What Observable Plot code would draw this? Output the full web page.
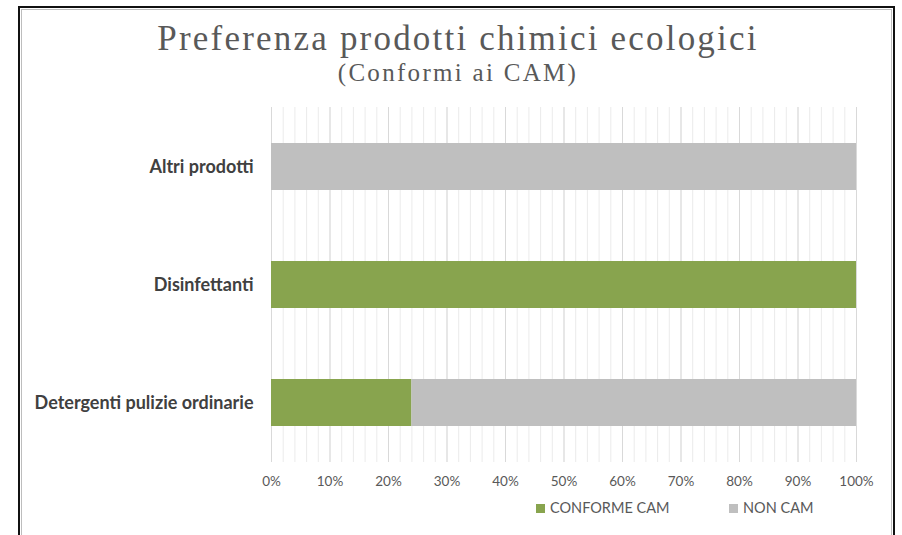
<!DOCTYPE html>
<html><head><meta charset="utf-8">
<script src="https://cdn.jsdelivr.net/npm/d3@7"></script>
<script src="https://cdn.jsdelivr.net/npm/@observablehq/plot@0.6"></script>
<style>
html,body{margin:0;padding:0;background:#fff;}
#wrap{position:relative;width:902px;height:535px;overflow:hidden;background:#fff;}
#frame{position:absolute;left:18px;top:6px;width:877px;height:560px;border:2px solid #111;box-sizing:border-box;}
#inner{position:absolute;left:1px;top:1px;right:1px;bottom:0;border:1px solid #bdbdbd;border-bottom:none;}
#title{position:absolute;left:19px;width:878px;top:19px;text-align:center;font-family:"Liberation Serif","DejaVu Serif",serif;color:#595959;font-size:35px;line-height:40px;letter-spacing:2.2px;}
#subtitle{position:absolute;left:19px;width:878px;top:58px;text-align:center;font-family:"Liberation Serif","DejaVu Serif",serif;color:#595959;font-size:25px;line-height:30px;letter-spacing:2.3px;}
#chart{position:absolute;left:0;top:0;}
.leg{position:absolute;top:500px;font-family:Lato,"Open Sans",sans-serif;font-size:14.5px;color:#595959;line-height:16px;}
.sw{display:inline-block;width:9px;height:9px;margin-right:5px;vertical-align:0px;}
</style></head>
<body>
<div id="wrap">
  <div id="frame"><div id="inner"></div></div>
  <div id="title">Preferenza prodotti chimici ecologici</div>
  <div id="subtitle">(Conformi ai CAM)</div>
  <div id="chart"></div>
  <div class="leg" id="leg1" style="left:536px"><span class="sw" style="background:#88a44e"></span>CONFORME CAM</div>
  <div class="leg" id="leg2" style="left:729px"><span class="sw" style="background:#bfbfbf"></span>NON CAM</div>
</div>
<script>
const categories = ["Altri prodotti", "Disinfettanti", "Detergenti pulizie ordinarie"];
const series = ["CONFORME CAM", "NON CAM"];
const conforme = [0, 100, 24];
const nonCam = [100, 0, 76];
const majorTicks = [0, 10, 20, 30, 40, 50, 60, 70, 80, 90, 100];
const minorTicks = d3.range(0, 101, 2);
const colors = ["#88a44e", "#bfbfbf"];

const rows = [];
categories.forEach((c, i) => {
  rows.push({cat: c, series: series[0], value: conforme[i]});
  rows.push({cat: c, series: series[1], value: nonCam[i]});
});

const chart = Plot.plot({
  width: 902,
  height: 535,
  marginLeft: 271,
  marginRight: 46,
  marginTop: 107,
  marginBottom: 73,
  style: {fontFamily: "Lato, 'Open Sans', sans-serif", background: "transparent", overflow: "visible"},
  x: {domain: [0, 100], ticks: majorTicks, tickFormat: d => d + "%"},
  y: {domain: categories, paddingInner: 0.6, paddingOuter: 0.3},
  color: {domain: series, range: colors},
  marks: [
    Plot.ruleX(minorTicks, {stroke: "#ebebeb", strokeWidth: 1}),
    Plot.ruleX(majorTicks, {stroke: "#d9d9d9", strokeWidth: 1}),
    Plot.barX(rows, Plot.stackX({x: "value", y: "cat", fill: "series", order: null})),
    Plot.axisX({ticks: majorTicks, tickFormat: d => d + "%", tickSize: 0, tickPadding: 14, fontSize: 13.5, color: "#595959", label: null}),
    Plot.axisY({tickSize: 0, tickPadding: 18, fontSize: 18, fontWeight: "bold", color: "#404040", label: null})
  ]
});
document.getElementById("chart").appendChild(chart);
</script>
</body></html>
